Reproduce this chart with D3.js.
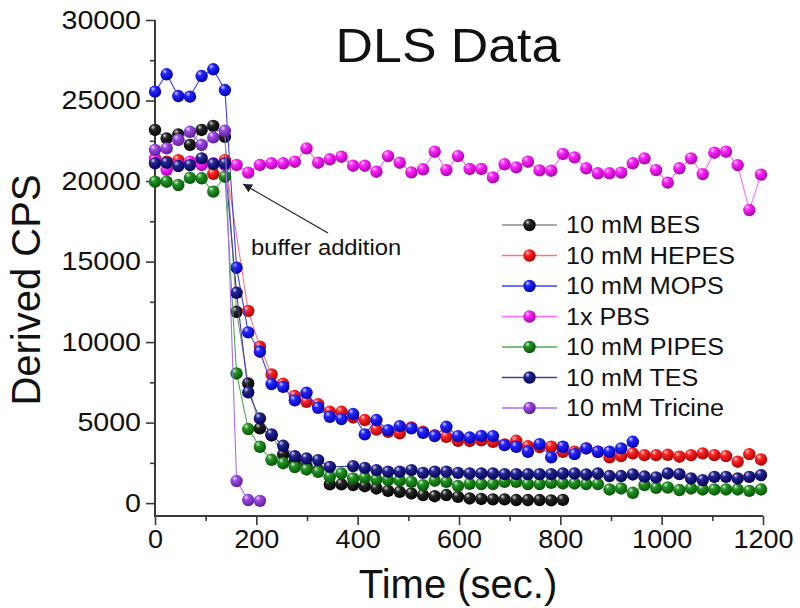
<!DOCTYPE html>
<html>
<head>
<meta charset="utf-8">
<script src="https://cdn.jsdelivr.net/npm/d3@7/dist/d3.min.js"></script>
<style>
  html, body { margin: 0; padding: 0; background: #fff; }
  svg { display: block; }
  text { font-family: "Liberation Sans", Arial, sans-serif; fill: #111; }
</style>
</head>
<body>
<svg id="chart" width="800" height="608"></svg>
<script>
// ---------------- DATA ----------------
const time = [0, 23, 46, 69, 92, 115, 138,
  161, 184, 207, 230, 253, 276, 299, 322, 345, 368, 391, 414, 437, 460, 483, 506,
  529, 552, 575, 598, 621, 644, 667, 690, 713, 736, 759, 782, 805, 828, 851, 874,
  897, 920, 943, 966, 989, 1012, 1035, 1058, 1081, 1104, 1127, 1150, 1173, 1196];

const bes = [23170, 22650, 22900, 22240, 23170, 23420, 22750,
  11880, 7430, 4640, 4200, 3030, 2600, 2300, 2050, 1170, 1170, 1120, 1050, 910, 760, 700, 600,
  500, 430, 500, 390, 290, 260, 230, 230, 190, 190, 190, 170, 200,
  null, null, null, null, null, null, null, null, null, null, null, null, null, null, null, null, null];

const hepes = [21400, 21200, 21300, 21100, 21200, 20450, 21300,
  null, 11940, 9710, 7990, 7410, 6650, 6290, 6150, 5670, 5670, 5320, 5160, 4570, 4430, 4330, 4700,
  4430, 4220, 4120, 3870, 3860, 3900, 3810, 3650, 3870, 3540, 3480, 3500, 3190, 3190, 3400, 3190,
  2840, 2920, 3090, 2980, 2980, 3000, 2880, 2980, 3090, 2980, 2920, 2570, 3040, 2710];

const mops = [25550, 26630, 25280, 25240, 26520, 26940, 25650,
  14620, 10600, 9400, 7390, 7220, 6380, 6850, 5920, 5360, 5220, 5530, 4270, 5160, 4530, 4780, 4640,
  4370, 4160, 4740, 4160, 4070, 4170, 4160, 3600, 3500, 3190, 3660, 2840, 3500, 3040, 3400, 3190,
  3190, 3400, 3810, null, null, null, null, null, null, null, null, null, null, null];

const pbs = [21300, 20700, 21000, 21200, 21000, 21100, 21000,
  21000, 20520, 21000, 21100, 21100, 21200, 22030, 21140, 21350, 21510, 20950, 20950, 20580, 21550, 21140, 20540,
  20730, 21820, 20680, 21550, 20750, 20750, 20230, 21040, 20850, 21200, 20660, 20640, 21680, 21470, 20790, 20480,
  20480, 20520, 21100, 21410, 20680, 19900, 20790, 21410, 20430, 21760, 21820, 20990, 18200, 20400];

const pipes = [19960, 19960, 19750, 20200, 20170, 19340, 20270,
  8050, 4600, 3500, 2690, 2480, 2240, 2090, 1940, 1630, 1840, 1530, 1590, 1470, 1430, 1390, 1320,
  1120, 1390, 1320, 1060, 1200, 1180, 1180, 1320, 1320, 1180, 1180, 1260, 1220, 1220, 1180, 1180,
  850, 910, 640, 1120, 950, 970, 810, 910, 850, 850, 850, 850, 760, 850];

const tes = [21100, 21140, 20930, 20990, 21410, 21060, 21100,
  13060, 6880, 5260, 4270, 3560, 2920, 2780, 2670, 2250, null, 2300, 2190, 2050, 1950, 1950, 2050,
  1880, 1950, 1950, 1880, 1840, 1840, 1840, 1800, 1800, 1800, 1800, 1800, 1840, 1840, 1780, 1840,
  1680, 1680, 1780, 1650, 1600, 1840, 1800, 1530, 1430, 1630, 1630, 1530, 1630, 1740];

const tricine = [21930, 22030, 22550, 23060, 22240, 22710, 23120,
  1370, 190, 140, null, null, null, null, null, null, null, null, null, null, null, null, null,
  null, null, null, null, null, null, null, null, null, null, null, null, null, null, null, null,
  null, null, null, null, null, null, null, null, null, null, null, null, null, null];

const seriesNames = ["10 mM BES", "10 mM HEPES", "10 mM MOPS", "1x PBS", "10 mM PIPES", "10 mM TES", "10 mM Tricine"];
const seriesValues = [bes, hepes, mops, pbs, pipes, tes, tricine];
const markerColors = ["#000000", "#ff0000", "#0000ff", "#ff00ff", "#008000", "#000080", "#8a2be2"];
const lineColors = ["#8c8c8c", "#ff7878", "#3c3cff", "#ff6cff", "#50a850", "#40409c", "#a46cff"];

const xTicks = [0, 200, 400, 600, 800, 1000, 1200];
const yTicks = [0, 5000, 10000, 15000, 20000, 25000, 30000];

const titleText = "DLS Data";
const xLabel = "Time (sec.)";
const yLabel = "Derived CPS";
const annotationText = "buffer addition";

// ---------------- LAYOUT ----------------
const svg = d3.select("#chart");
const x = d3.scaleLinear().domain([0, 1200]).range([155, 763]);
const y = d3.scaleLinear().domain([-800, 30000]).range([516, 20]);

// horizontally stretch text (the source picture is slightly widened)
function stretch(sel, sx) {
  sel.each(function () {
    const w = this.getComputedTextLength();
    d3.select(this).attr("textLength", w * sx).attr("lengthAdjust", "spacingAndGlyphs");
  });
}

// gradients for sphere-like markers
const defs = svg.append("defs");
markerColors.forEach((c, i) => {
  const g = defs.append("radialGradient").attr("id", "sph" + i)
    .attr("cx", "0.4").attr("cy", "0.35").attr("r", "0.68").attr("fx", "0.33").attr("fy", "0.27");
  g.append("stop").attr("offset", "0%").attr("stop-color", d3.interpolateRgb(c, "#ffffff")(0.85));
  g.append("stop").attr("offset", "30%").attr("stop-color", d3.interpolateRgb(c, "#ffffff")(0.15));
  g.append("stop").attr("offset", "100%").attr("stop-color", d3.interpolateRgb(c, "#000000")(0.35));
});

// axes
const axisColor = "#3a3a3a";
const yAxis = d3.axisLeft(y).tickValues(yTicks).tickSize(9).tickPadding(5).tickFormat(d3.format("d"));
const yMinor = d3.axisLeft(y).tickValues(d3.range(2500, 30000, 5000)).tickSize(5).tickFormat("");
const xAxis = d3.axisBottom(x).tickValues(xTicks).tickSize(9).tickPadding(5).tickFormat(d3.format("d"));
const xMinor = d3.axisBottom(x).tickValues(d3.range(100, 1200, 200)).tickSize(5).tickFormat("");

const gy = svg.append("g").attr("transform", "translate(155,0)").call(yAxis);
svg.append("g").attr("transform", "translate(155,0)").call(yMinor).select(".domain").remove();
const gx = svg.append("g").attr("transform", "translate(0,516)").call(xAxis);
svg.append("g").attr("transform", "translate(0,516)").call(xMinor).select(".domain").remove();

gy.select(".domain").remove();
gx.select(".domain").remove();
svg.selectAll(".tick line").attr("stroke", axisColor).attr("stroke-width", 1.6);
svg.selectAll(".tick text").attr("font-size", 26).attr("fill", "#111")
  .attr("font-family", "Liberation Sans, Arial, sans-serif");
stretch(gy.selectAll(".tick text"), 1.1);
stretch(gx.selectAll(".tick text"), 1.04);

svg.append("line").attr("x1", 155).attr("x2", 155).attr("y1", y(30000)).attr("y2", 517)
  .attr("stroke", axisColor).attr("stroke-width", 2);
svg.append("line").attr("x1", 154).attr("x2", x(1200)).attr("y1", 516).attr("y2", 516)
  .attr("stroke", axisColor).attr("stroke-width", 2);

// data
const line = d3.line().x(d => x(d[0])).y(d => y(d[1]));
seriesValues.forEach((vals, i) => {
  const pts = time.map((t, j) => [t, vals[j]]).filter(d => d[1] !== null);
  const g = svg.append("g");
  g.append("path").attr("d", line(pts)).attr("fill", "none")
    .attr("stroke", lineColors[i]).attr("stroke-width", 1.1);
  g.selectAll("circle").data(pts).enter().append("circle")
    .attr("cx", d => x(d[0])).attr("cy", d => y(d[1])).attr("r", 6.2)
    .attr("fill", "url(#sph" + i + ")");
});

// legend
const legend = svg.append("g");
seriesNames.forEach((name, i) => {
  const ly = 225 + i * 30.5;
  legend.append("line").attr("x1", 502).attr("x2", 557).attr("y1", ly).attr("y2", ly)
    .attr("stroke", lineColors[i]).attr("stroke-width", 1.3);
  legend.append("circle").attr("cx", 529.5).attr("cy", ly).attr("r", 6.2)
    .attr("fill", "url(#sph" + i + ")");
  const t = legend.append("text").attr("x", 566).attr("y", ly).attr("dy", "0.36em")
    .attr("font-size", 23.5).text(name);
  stretch(t, 1.07);
});

// annotation
defs.append("marker").attr("id", "arrow").attr("viewBox", "0 0 10 10")
  .attr("refX", 10).attr("refY", 5).attr("markerWidth", 9).attr("markerHeight", 9)
  .attr("orient", "auto-start-reverse").attr("markerUnits", "userSpaceOnUse")
  .append("path").attr("d", "M0,0 L10,5 L0,10 z").attr("fill", "#222");
svg.append("line").attr("x1", 328).attr("y1", 233).attr("x2", 243).attr("y2", 184)
  .attr("stroke", "#222").attr("stroke-width", 1.2).attr("marker-end", "url(#arrow)");
const ann = svg.append("text").attr("x", 251).attr("y", 255).attr("font-size", 22).text(annotationText);
stretch(ann, 1.08);

// titles
const tt = svg.append("text").attr("x", 448).attr("y", 62).attr("text-anchor", "middle")
  .attr("font-size", 48).text(titleText);
stretch(tt, 1.08);
svg.append("text").attr("x", 458).attr("y", 598).attr("text-anchor", "middle")
  .attr("font-size", 40).text(xLabel);
svg.append("text").attr("transform", "translate(40,290) rotate(-90)").attr("text-anchor", "middle")
  .attr("font-size", 40).text(yLabel);
</script>
</body>
</html>
